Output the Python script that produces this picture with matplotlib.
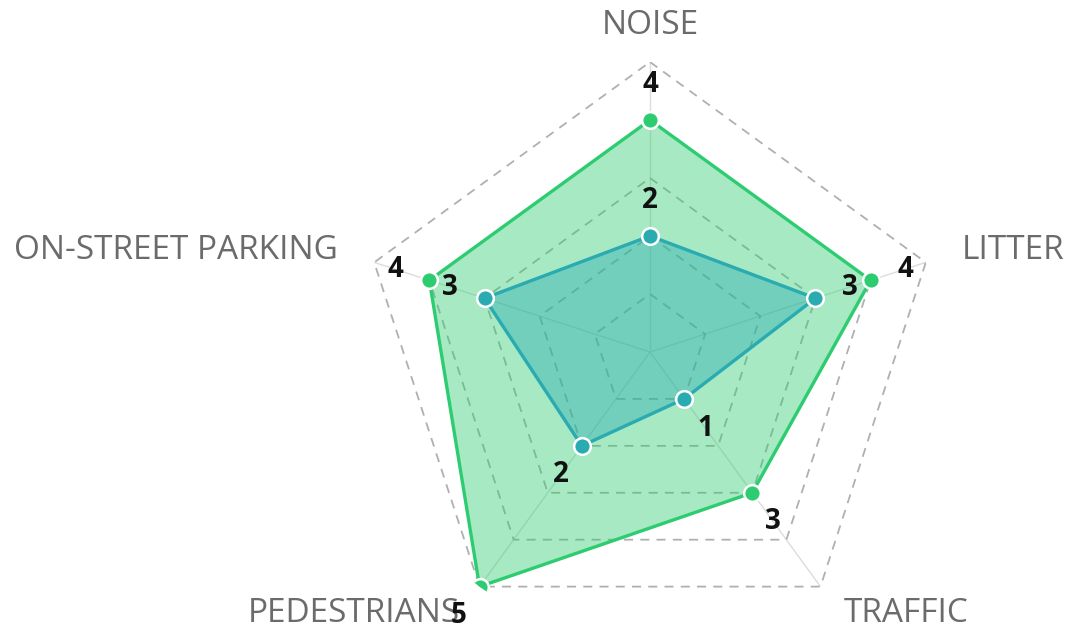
import numpy as np
import matplotlib
matplotlib.use("Agg")
import matplotlib.pyplot as plt

categories = ["NOISE", "LITTER", "TRAFFIC", "PEDESTRIANS", "ON-STREET PARKING"]
series_green = [4, 4, 3, 5, 4]
series_blue = [2, 3, 1, 2, 3]
levels = [1, 2, 3, 4, 5]

GREEN = "#2ecc71"
BLUE = "#2aabb1"
PX = 0.72  # points per pixel at dpi 100

fig = plt.figure(figsize=(10.67, 6.32), dpi=100)
ax = fig.add_axes([(650 - 290) / 1067, (280 - 290) / 632, 580 / 1067, 580 / 632],
                  projection="polar")
ax.set_theta_offset(np.pi / 2)
ax.set_theta_direction(-1)
ax.set_ylim(0, 5)
ax.grid(False)
ax.set_xticks([])
ax.set_yticks([])
ax.spines["polar"].set_visible(False)
ax.patch.set_visible(False)

n = len(categories)
angles = np.arange(n) * 2 * np.pi / n
closed = np.concatenate([angles, angles[:1]])

# spokes
for a in angles:
    ax.plot([a, a], [0, levels[-1]], color="#dcdcdc", lw=1.0, zorder=1)
# dashed rings
for lv in levels:
    ax.plot(closed, [lv] * (n + 1), color="#b0b0b0", lw=1.3, ls=(0, (5, 4)), zorder=1)

def draw_series(vals, color, z):
    v = np.concatenate([vals, vals[:1]])
    ax.fill(closed, v, color=color, alpha=0.42, lw=0, zorder=z)
    ax.plot(closed, v, color=color, lw=2.4, zorder=z + 1)
    ax.plot(angles, vals, ls="none", marker="o", ms=12, mfc=color,
            mec="white", mew=1.8, zorder=z + 2)

draw_series(series_green, GREEN, 2)
draw_series(series_blue, BLUE, 5)

# value labels, offset outward along each axis
for vals in (series_green, series_blue):
    for a, v in zip(angles, vals):
        off = 36 * PX
        ax.annotate(str(v), xy=(a, v), xytext=(off * np.sin(a), off * np.cos(a)),
                    textcoords="offset points", ha="center", va="center",
                    fontsize=20, fontweight="bold", color="#111111",
                    family=["Open Sans", "DejaVu Sans"], zorder=10,
                    annotation_clip=False)

# category labels
cat_offsets = [(0, 37, "center"), (36, 12, "left"), (23, -27, "left"),
               (-20, -27, "right"), (-36, 12, "right")]
for a, name, (dx, dy, ha) in zip(angles, categories, cat_offsets):
    ax.annotate(name, xy=(a, levels[-1]), xytext=(dx * PX, dy * PX),
                textcoords="offset points", ha=ha, va="center",
                fontsize=24, color="#6b6b6b",
                family=["Open Sans", "DejaVu Sans"], annotation_clip=False,
                zorder=9)

fig.savefig("out.png", dpi=100)
